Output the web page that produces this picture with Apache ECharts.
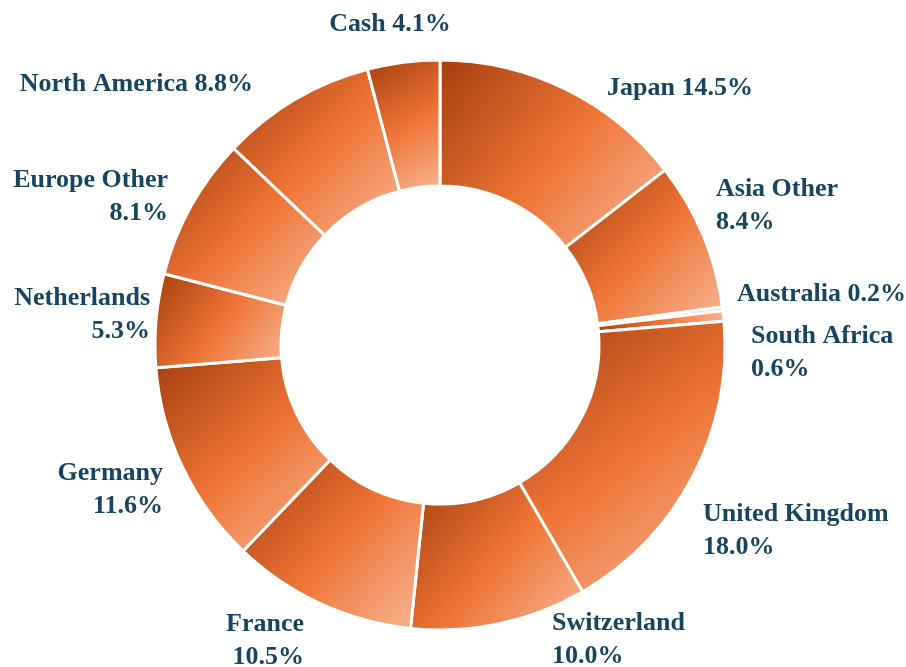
<!DOCTYPE html>
<html>
<head>
<meta charset="utf-8">
<script src="https://cdn.jsdelivr.net/npm/echarts@6/dist/echarts.min.js"></script>
<style>
  html, body { margin: 0; padding: 0; background: #fff; }
  #chart { width: 906px; height: 667px; }
</style>
</head>
<body>
<div id="chart"></div>
<script>
// regions, clockwise from 12 o'clock
const regions = ['Japan', 'Asia Other', 'Australia', 'South Africa', 'United Kingdom',
  'Switzerland', 'France', 'Germany', 'Netherlands', 'Europe Other', 'North America', 'Cash']
const weights = [14.5, 8.4, 0.2, 0.6, 18.0, 10.0, 10.5, 11.6, 5.3, 8.1, 8.8, 4.1]
// labels that wrap the value onto a second line
const twoLine = ['Asia Other', 'South Africa', 'United Kingdom', 'Switzerland', 'France',
  'Germany', 'Netherlands', 'Europe Other']

// where each label sits (x, top, align), same order as regions
const labelSpots = [
  [607, 72, 'left'],
  [716, 173, 'left'],
  [737, 278, 'left'],
  [751, 320, 'left'],
  [703, 498, 'left'],
  [552, 607, 'left'],
  [304, 608, 'right'],
  [163, 457, 'right'],
  [150, 282, 'right'],
  [168, 164, 'right'],
  [253, 68, 'right'],
  [390, 8, 'center']
]

const chart = echarts.init(document.getElementById('chart'))

// each slice: dark at top-left, orange in the middle, pale at bottom-right
const sliceFill = new echarts.graphic.LinearGradient(0, 0, 1, 1, [
  { offset: 0, color: '#a43e0d' },
  { offset: 0.52, color: '#ee7537' },
  { offset: 1, color: '#f7b898' }
])

chart.setOption({
  animation: false,
  series: [
    {
      type: 'pie',
      center: [440, 345],
      radius: [159, 285],
      startAngle: 90,
      clockwise: true,
      avoidLabelOverlap: false,
      itemStyle: {
        color: sliceFill,
        borderColor: '#ffffff',
        borderWidth: 3
      },
      label: {
        show: true,
        position: 'outside',
        fontFamily: '"Liberation Serif", serif',
        fontWeight: 'bold',
        fontSize: 26,
        lineHeight: 33,
        color: '#17445e',
        formatter: function (p) {
          const sep = twoLine.indexOf(p.name) >= 0 ? '\n' : ' '
          return p.name + sep + p.value.toFixed(1) + '%'
        }
      },
      labelLine: { show: false },
      labelLayout: function (params) {
        const s = labelSpots[params.dataIndex]
        return { x: s[0], y: s[1], align: s[2], verticalAlign: 'top' }
      },
      data: regions.map(function (name, i) {
        return { name: name, value: weights[i] }
      })
    }
  ]
})
</script>
</body>
</html>
